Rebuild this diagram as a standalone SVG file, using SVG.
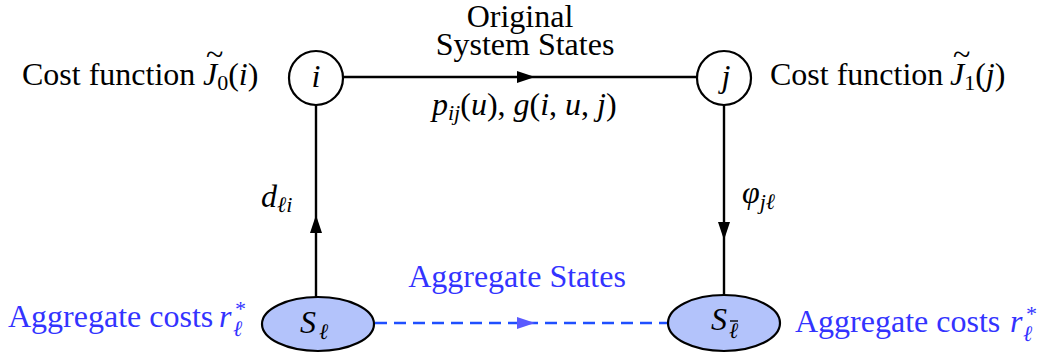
<svg xmlns="http://www.w3.org/2000/svg" width="1039" height="358" viewBox="0 0 1039 358">
<style>
text{font-family:"Liberation Serif","Times New Roman",serif;font-size:32px;fill:#000}
.it{font-style:italic}
.sub{font-size:22px}
.blue{fill:#3333ff}
.node{fill:#fff;stroke:#000;stroke-width:2.2}
.agg{fill:#b3c3fb;stroke:#000;stroke-width:2.2}
.edge{stroke:#000;stroke-width:2.4;fill:none}
.dash{stroke:#1f4fff;stroke-width:2.4;fill:none;stroke-dasharray:12 7}
</style>
<defs>
<marker id="ah" markerWidth="18" markerHeight="12" refX="9" refY="6" orient="auto" markerUnits="userSpaceOnUse">
<path d="M0,0 L18,6 L0,12 Z" fill="#000"/>
</marker>
<marker id="ahb" markerWidth="18" markerHeight="12" refX="9" refY="6" orient="auto" markerUnits="userSpaceOnUse">
<path d="M0,0 L18,6 L0,12 Z" fill="#5a5aff"/>
</marker>
</defs>
<g id="connectors">
<path class="edge" d="M344,77 L526,77"/><path class="edge" d="M526,77 L697,77" marker-start="url(#ah)"/>
<path class="edge" d="M316,297 L316,224"/><path class="edge" d="M316,224 L316,105" marker-start="url(#ah)"/>
<path class="edge" d="M724,105 L724,231"/><path class="edge" d="M724,231 L724,295" marker-start="url(#ah)"/>
<path class="dash" d="M375,323 L526,323"/><path class="dash" d="M526,323 L668,323" marker-start="url(#ahb)"/>
</g>
<g id="labels">
<text x="520" y="27" text-anchor="middle">Original</text>
<text x="525" y="55" text-anchor="middle">System States</text>
<text x="432" y="115"><tspan class="it">p</tspan><tspan class="sub it" dy="5">ij</tspan><tspan dy="-5">(</tspan><tspan class="it">u</tspan>), <tspan class="it">g</tspan>(<tspan class="it">i</tspan>, <tspan class="it">u</tspan>, <tspan class="it">j</tspan>)</text>
<text x="261" y="207"><tspan class="it">d</tspan><tspan class="sub it" dy="5">ℓi</tspan></text>
<text x="742" y="203"><tspan class="it">φ</tspan><tspan class="sub it" dy="6">jℓ</tspan></text>
<text x="517" y="287" text-anchor="middle" class="blue">Aggregate States</text>
</g>
<g id="node-i">
<text x="22" y="85">Cost function</text>
<text x="203" y="85"><tspan class="it">J</tspan><tspan class="sub" dy="5">0</tspan><tspan dy="-5">(</tspan><tspan class="it">i</tspan>)</text>
<text x="206" y="65" font-size="22">~</text>
<circle class="node" cx="316" cy="78" r="27"/>
<text x="316" y="87" text-anchor="middle" class="it">i</text>
</g>
<g id="node-j">
<circle class="node" cx="724" cy="78" r="27"/>
<text x="726" y="87" text-anchor="middle" class="it">j</text>
<text x="770" y="85">Cost function</text>
<text x="950" y="85"><tspan class="it">J</tspan><tspan class="sub" dy="5">1</tspan><tspan dy="-5">(</tspan><tspan class="it">j</tspan>)</text>
<text x="953" y="65" font-size="22">~</text>
</g>
<g id="node-sl">
<text x="8" y="327" class="blue">Aggregate costs</text>
<text x="219" y="327" class="blue it">r</text>
<text x="234" y="316" class="blue sub it">*</text>
<text x="233" y="336" class="blue sub it">ℓ</text>
<ellipse class="agg" cx="318" cy="324" rx="56" ry="27"/>
<text x="300" y="333" class="it" font-size="29">S</text>
<text x="319" y="339" class="sub it">ℓ</text>
</g>
<g id="node-slbar">
<ellipse class="agg" cx="724" cy="323" rx="56" ry="28"/>
<text x="711" y="330" class="it" font-size="29">S</text>
<text x="729" y="338" class="sub it">ℓ</text>
<line x1="730" y1="321" x2="738" y2="321" stroke="#000" stroke-width="1.4"/>
<text x="795" y="332" class="blue">Aggregate costs</text>
<text x="1010" y="332" class="blue it">r</text>
<text x="1025" y="321" class="blue sub it">*</text>
<text x="1023" y="341" class="blue sub it">ℓ</text>
</g>
</svg>
